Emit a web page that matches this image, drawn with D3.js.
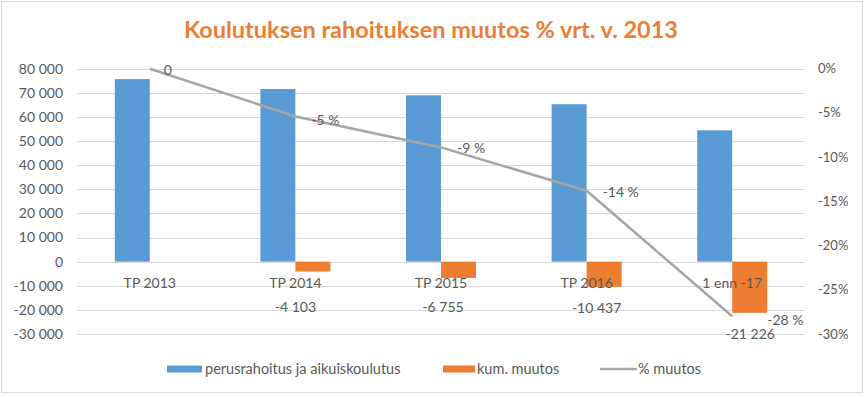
<!DOCTYPE html>
<html>
<head>
<meta charset="utf-8">
<script src="https://cdn.jsdelivr.net/npm/d3@7"></script>
<style>
  body { margin: 0; background: #fff; }
  text { font-family: Lato, "Open Sans", sans-serif; fill: #595959; }
</style>
</head>
<body>
<svg width="867" height="397"></svg>
<script>
// data
const categories = ["TP 2013", "TP 2014", "TP 2015", "TP 2016", "1 enn -17"];
const funding = [75700, 71597, 68945, 65263, 54474];
const cumChange = [0, -4103, -6755, -10437, -21226];
const pctChange = [0, -0.054, -0.089, -0.138, -0.280];
const pctLabels = ["0", "-5 %", "-9 %", "-14 %", "-28 %"];
const leftTicks = [80000, 70000, 60000, 50000, 40000, 30000, 20000, 10000, 0, -10000, -20000, -30000];
const rightTicks = [0, -0.05, -0.10, -0.15, -0.20, -0.25, -0.30];

const svg = d3.select("svg");

const plotLeft = 77, plotRight = 805, plotTop = 68.7, plotBottom = 334;

// finnish style numbers, plain hyphen for minus
const fi = d3.formatLocale({ decimal: ",", thousands: " ", grouping: [3], currency: ["", ""], minus: "-", percent: "%" });
const num = fi.format(",");
const pct = fi.format(".0%");

// frame
svg.append("rect").attr("x", 1.5).attr("y", 1.5).attr("width", 861).attr("height", 391)
  .attr("fill", "#fff").attr("stroke", "#d9d9d9");

svg.append("text")
  .attr("x", 431).attr("y", 38)
  .attr("text-anchor", "middle")
  .style("font-size", "23.5px").style("font-weight", "bold").style("fill", "#ED7D31")
  .text("Koulutuksen rahoituksen muutos % vrt. v. 2013");

const x = d3.scaleBand().domain(categories).range([plotLeft, plotRight]).paddingInner(0.519).paddingOuter(0.2595);
const xs = d3.scaleBand().domain(["funding", "change"]).range([0, x.bandwidth()]);
const y = d3.scaleLinear().domain([-30000, 80000]).range([plotBottom, plotTop]);
const yp = d3.scaleLinear().domain([-0.30, 0]).range([plotBottom, plotTop]);

// gridlines
svg.append("g").selectAll("line").data(leftTicks).enter().append("line")
  .attr("x1", plotLeft).attr("x2", plotRight)
  .attr("y1", d => Math.round(y(d)) + 0.5).attr("y2", d => Math.round(y(d)) + 0.5)
  .attr("stroke", "#d9d9d9");

// left axis labels
svg.append("g").selectAll("text").data(leftTicks).enter().append("text")
  .attr("x", 63).attr("y", d => y(d)).attr("dy", "0.35em")
  .attr("text-anchor", "end").style("font-size", "14px")
  .text(d => num(d));

// right axis labels
svg.append("g").selectAll("text").data(rightTicks).enter().append("text")
  .attr("x", 818).attr("y", d => yp(d)).attr("dy", "0.35em")
  .style("font-size", "13px")
  .text(d => pct(d));

// bars
const grp = svg.append("g").selectAll("g").data(categories).enter().append("g")
  .attr("transform", d => `translate(${x(d)},0)`);

grp.append("rect")
  .attr("x", xs("funding")).attr("width", xs.bandwidth())
  .attr("y", (d, i) => y(funding[i])).attr("height", (d, i) => y(0) - y(funding[i]))
  .attr("fill", "#5B9BD5");

grp.append("rect")
  .attr("x", xs("change")).attr("width", xs.bandwidth())
  .attr("y", y(0)).attr("height", (d, i) => y(cumChange[i]) - y(0))
  .attr("fill", "#ED7D31");

// category labels
svg.append("g").selectAll("text").data(categories).enter().append("text")
  .attr("x", d => x(d) + x.bandwidth() / 2).attr("y", 283).attr("dy", "0.35em")
  .attr("text-anchor", "middle").style("font-size", "14px")
  .text(d => d);

// line
const pts = categories.map((c, i) => [x(c) + x.bandwidth() / 2, yp(pctChange[i])]);
svg.append("path").attr("d", d3.line()(pts))
  .attr("fill", "none").attr("stroke", "#A5A5A5").attr("stroke-width", 2.5);

// value labels for cumulative change (dragged by hand in the original)
const changeNudge = [0, 0, 2, 10, 18];
svg.append("g").selectAll("text").data(categories).enter().append("text")
  .filter((d, i) => cumChange[i] !== 0)
  .attr("x", d => x(d) + x.bandwidth() / 2 + changeNudge[categories.indexOf(d)])
  .attr("y", d => Math.max(y(cumChange[categories.indexOf(d)]) + 21, y(-19000)))
  .attr("dy", "0.35em").attr("text-anchor", "middle").style("font-size", "14px")
  .text(d => num(cumChange[categories.indexOf(d)]));

// percentage labels
svg.append("g").selectAll("text").data(pts).enter().append("text")
  .attr("x", (d, i) => d[0] + (i === 4 ? 35 : i === 0 ? 14 : 16))
  .attr("y", (d, i) => d[1] + (i === 1 ? 4 : i === 4 ? 4 : 1))
  .attr("dy", "0.35em").style("font-size", "14px")
  .text((d, i) => pctLabels[i]);

// legend
const ly = 369;
const legend = svg.append("g");
legend.append("rect").attr("x", 167).attr("y", ly - 3.5).attr("width", 35).attr("height", 7).attr("fill", "#5B9BD5");
legend.append("text").attr("x", 205).attr("y", ly).attr("dy", "0.35em").style("font-size", "14.5px").text("perusrahoitus ja aikuiskoulutus");
legend.append("rect").attr("x", 443).attr("y", ly - 3.5).attr("width", 32).attr("height", 7).attr("fill", "#ED7D31");
legend.append("text").attr("x", 477).attr("y", ly).attr("dy", "0.35em").style("font-size", "14.5px").text("kum. muutos");
legend.append("line").attr("x1", 600).attr("x2", 637).attr("y1", ly).attr("y2", ly).attr("stroke", "#A5A5A5").attr("stroke-width", 2.5);
legend.append("text").attr("x", 638).attr("y", ly).attr("dy", "0.35em").style("font-size", "14.5px").text("% muutos");
</script>
</body>
</html>
